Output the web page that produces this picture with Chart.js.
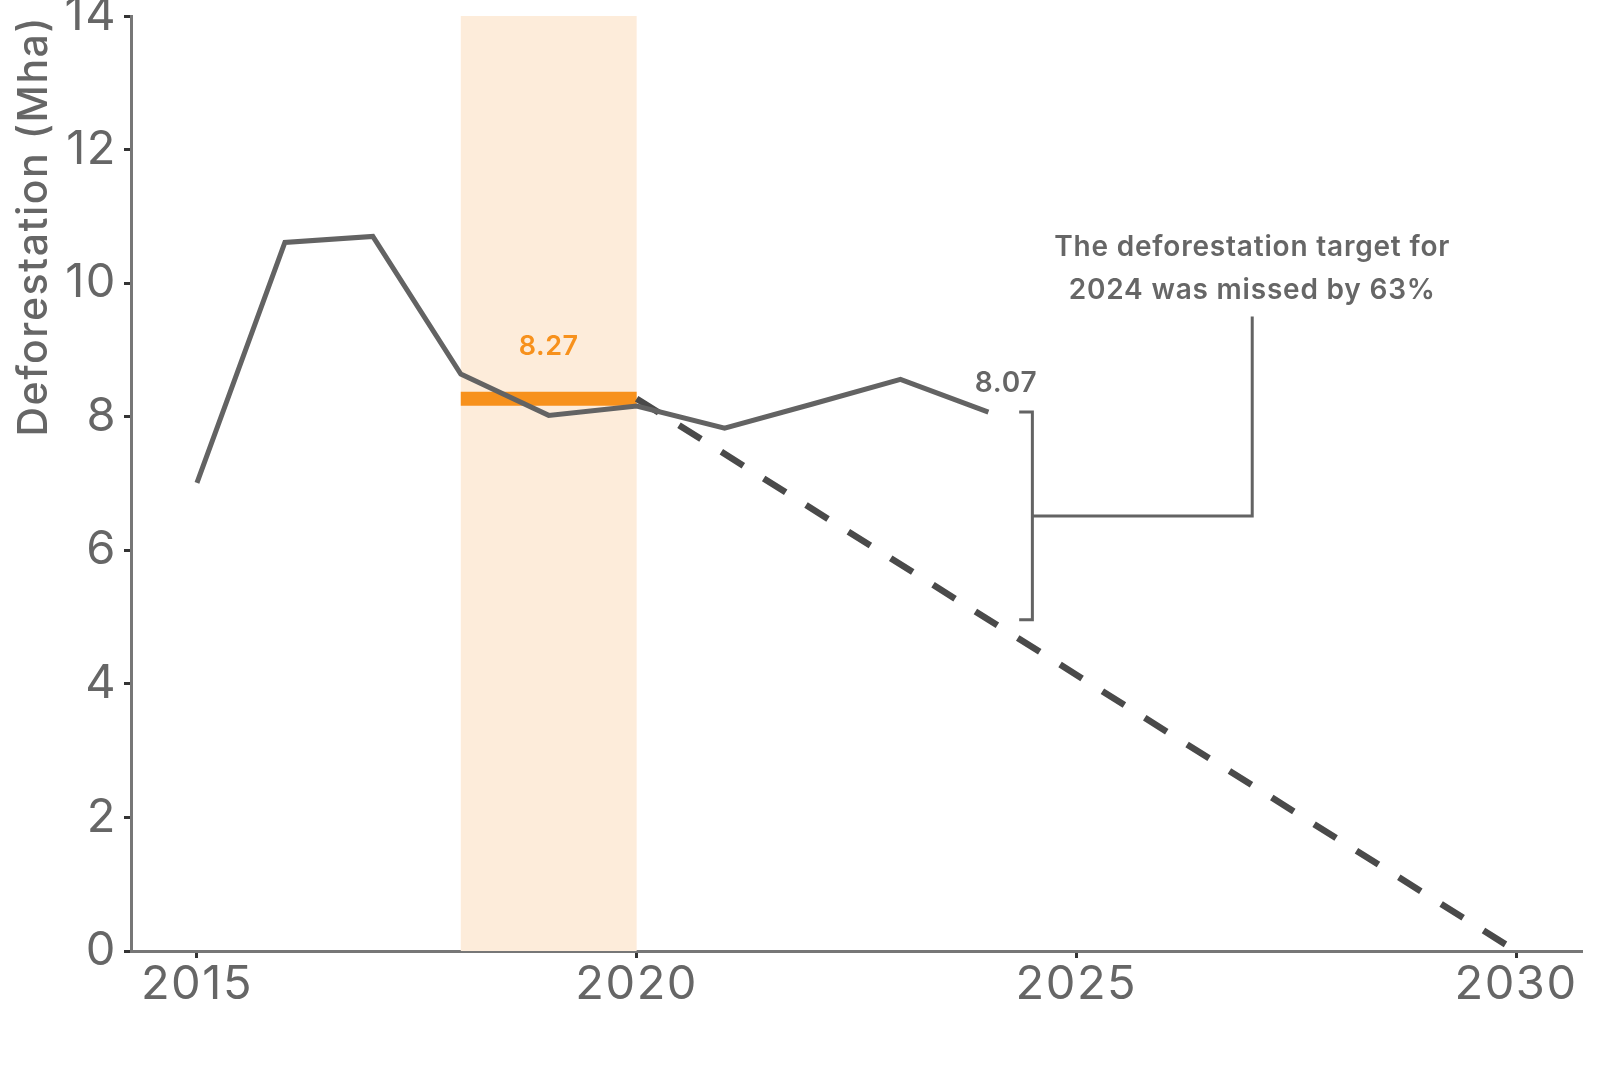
<!DOCTYPE html>
<html>
<head>
<meta charset="utf-8">
<script src="https://cdn.jsdelivr.net/npm/chart.js@4.4.1/dist/chart.umd.min.js"></script>
<style>
    html, body { margin: 0; padding: 0; background: #fff; }
    .chartBox { width: 1600px; height: 1067px; position: relative; }
</style>
</head>
<body>
<div class="chartBox"><canvas id="chart"></canvas></div>
<script>
// values
const years = [2015, 2016, 2017, 2018, 2019, 2020, 2021, 2022, 2023, 2024];
const deforestation = [7.01, 10.61, 10.70, 8.64, 8.02, 8.16, 7.83, 8.19, 8.56, 8.07];

const baselineYears = [2018, 2020];
const baselineValue = 8.27;

const targetYears = [2020, 2030];
const targetValues = [8.27, 0];

const target2024 = 4.96;
const missedBy = 63;

const xTicks = [2015, 2020, 2025, 2030];
const yTicks = [0, 2, 4, 6, 8, 10, 12, 14];

const annotationLines = ["The deforestation target for", "2024 was missed by " + missedBy + "%"];

const GREY = "#636363";
const TEXT = "#666666";
const ORANGE = "#f7911c";
const FONT = "Inter, 'DejaVu Sans', sans-serif";

const pairs = (xs, ys) => xs.map((x, i) => ({ x: x, y: ys[i] }));

// bracket from actual 2024 value down to the target, with a leader to the note
const bracketX = 2024.5;
const bracketTick = 0.15;
const leaderX = 2027;
const leaderMid = (deforestation[9] + target2024) / 2;

const bandPlugin = {
    id: "band",
    beforeDraw: (chart) => {
        // wider letters for axis text (the original face is a wide geometric sans)
        chart.ctx.letterSpacing = "1.5px";
    },
    beforeDatasetsDraw: (chart) => {
        const { ctx, chartArea, scales } = chart;
        const x0 = scales.x.getPixelForValue(baselineYears[0]);
        const x1 = scales.x.getPixelForValue(baselineYears[1]);
        ctx.save();
        ctx.fillStyle = "#fdecda";
        ctx.fillRect(x0, chartArea.top, x1 - x0, chartArea.bottom - chartArea.top);
        ctx.restore();
    },
};

const labelPlugin = {
    id: "labels",
    afterDatasetsDraw: (chart) => {
        const { ctx, scales } = chart;
        const px = (v) => scales.x.getPixelForValue(v);
        const py = (v) => scales.y.getPixelForValue(v);
        ctx.save();
        ctx.textAlign = "center";
        ctx.textBaseline = "middle";

        ctx.letterSpacing = "0.5px";
        ctx.font = "600 27px " + FONT;
        ctx.fillStyle = ORANGE;
        ctx.fillText(baselineValue.toFixed(2), px(2019), py(baselineValue + 0.78));

        ctx.letterSpacing = "0.8px";
        ctx.font = "600 28px " + FONT;
        ctx.fillStyle = TEXT;
        ctx.fillText(deforestation[9].toFixed(2), px(2024.2), py(deforestation[9] + 0.43));

        ctx.letterSpacing = "0.8px";
        ctx.font = "600 28px " + FONT;
        ctx.fillText(annotationLines[0], px(leaderX), py(10.53));
        ctx.fillText(annotationLines[1], px(leaderX), py(9.89));
        ctx.restore();
    },
};

new Chart(document.getElementById("chart"), {
    type: "line",
    data: {
        datasets: [
            {
                data: pairs(years, deforestation),
                borderColor: GREY,
                borderWidth: 5,
                order: 0,
            },
            {
                data: pairs(targetYears, targetValues),
                borderColor: "#4a4a4a",
                borderWidth: 6.5,
                borderDash: [26, 24],
                order: 1,
            },
            {
                data: pairs(baselineYears, [baselineValue, baselineValue]),
                borderColor: ORANGE,
                borderWidth: 14,
                borderCapStyle: "butt",
                order: 2,
            },
            {
                data: [
                    { x: bracketX - bracketTick, y: deforestation[9] },
                    { x: bracketX, y: deforestation[9] },
                    { x: bracketX, y: target2024 },
                    { x: bracketX - bracketTick, y: target2024 },
                ],
                borderColor: GREY,
                borderWidth: 3,
                order: 3,
            },
            {
                data: [
                    { x: bracketX, y: leaderMid },
                    { x: leaderX, y: leaderMid },
                    { x: leaderX, y: 9.5 },
                ],
                borderColor: GREY,
                borderWidth: 3,
                order: 3,
            },
        ],
    },
    options: {
        maintainAspectRatio: false,
        animation: false,
        layout: {
            padding: { top: 16, right: 18, left: 0, bottom: 0 },
        },
        elements: {
            line: { tension: 0, borderJoinStyle: "miter" },
            point: { radius: 0, hitRadius: 0 },
        },
        plugins: {
            legend: { display: false },
            tooltip: { enabled: false },
        },
        scales: {
            x: {
                type: "linear",
                min: 2014.25,
                max: 2030.75,
                afterBuildTicks: (scale) => {
                    scale.ticks = xTicks.map((v) => ({ value: v }));
                },
                afterFit: (scale) => {
                    scale.height = 116;
                    scale.paddingLeft = 0;
                    scale.paddingRight = 0;
                },
                grid: {
                    drawOnChartArea: false,
                    drawTicks: true,
                    tickLength: 7,
                    tickWidth: 3,
                    tickColor: "#333",
                },
                border: { display: true, color: "#777", width: 3 },
                ticks: {
                    color: TEXT,
                    padding: -1,
                    font: { family: FONT, size: 47 },
                    callback: (v) => String(v),
                },
            },
            y: {
                min: 0,
                max: 14,
                afterBuildTicks: (scale) => {
                    scale.ticks = yTicks.map((v) => ({ value: v }));
                },
                afterFit: (scale) => {
                    scale.width = 131;
                    scale.paddingTop = 0;
                    scale.paddingBottom = 0;
                },
                grid: {
                    drawOnChartArea: false,
                    drawTicks: true,
                    tickLength: 7,
                    tickWidth: 3,
                    tickColor: "#333",
                },
                border: { display: true, color: "#777", width: 3 },
                ticks: {
                    color: TEXT,
                    padding: 7,
                    font: { family: FONT, size: 47 },
                    callback: (v) => String(v),
                },
                title: {
                    display: true,
                    text: "Deforestation (Mha)",
                    align: "end",
                    color: TEXT,
                    padding: { top: 10, bottom: 0 },
                    font: { family: FONT, size: 41, weight: 500 },
                },
            },
        },
    },
    plugins: [bandPlugin, labelPlugin],
});
</script>
</body>
</html>
